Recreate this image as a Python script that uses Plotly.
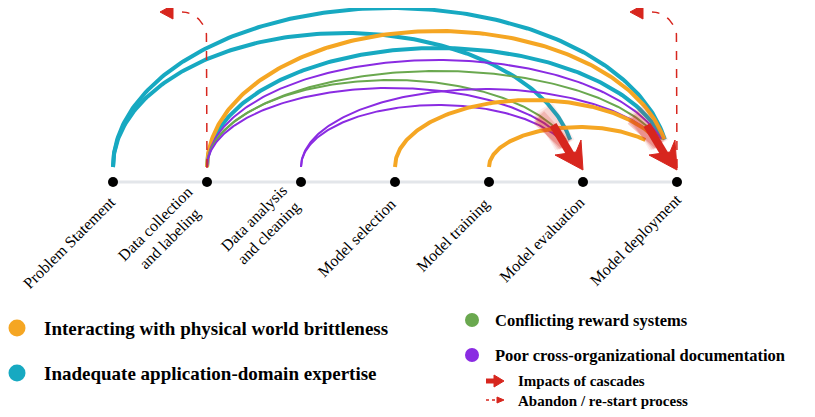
import numpy as np
import plotly.graph_objects as go

stages = ["Problem Statement", "Data collection<br>and labeling", "Data analysis<br>and cleaning",
          "Model selection", "Model training", "Model evaluation", "Model deployment"]
stage_x = [113, 207, 301, 395, 489, 583, 677]
axis_y = 182
# arcs: (source stage, target stage, color key, peak y)
arc_src = [0, 0, 1, 1, 1, 1, 1, 1, 2, 2, 3, 4]
arc_tgt = [6, 5, 6, 6, 6, 6, 5, 5, 5, 6, 6, 6]
arc_col = ["teal", "teal", "teal", "orange", "purple", "green", "green", "purple", "purple", "purple", "orange", "orange"]
arc_peak = [8, 33, 48, 31, 60, 71, 80, 88, 105, 89, 100, 127]
arc_w = {"teal": 4, "orange": 4, "purple": 2, "green": 2}
colors = {"teal": "#17a9c1", "orange": "#f5a623", "purple": "#8a2be2", "green": "#6aa84f", "red": "#d7261e"}
red = colors["red"]
FONT = "Liberation Serif"

fig = go.Figure()
fig.add_trace(go.Scatter(x=[stage_x[0], stage_x[-1]], y=[axis_y, axis_y], mode="lines",
                         line=dict(color="#e3e6ea", width=3), hoverinfo="skip"))
base = 167
for s, t, c, p in zip(arc_src, arc_tgt, arc_col, arc_peak):
    x0 = stage_x[s]
    xe = stage_x[t] - 8
    cx = (x0 + xe) / 2
    a = (xe - x0) / 2
    h = base - p
    tt = np.linspace(0, np.pi, 200)
    xs = cx - a * np.cos(tt)
    ys = base - h * np.sin(tt)
    stop_y = 140
    keep = [i for i in range(len(tt)) if tt[i] < np.pi / 2 or ys[i] < stop_y]
    fig.add_trace(go.Scatter(x=xs[keep], y=ys[keep], mode="lines",
                             line=dict(color=colors[c], width=arc_w[c]), hoverinfo="skip"))
for tx in [stage_x[5], stage_x[6]]:
    for k, op in enumerate([0.08, 0.12, 0.18, 0.25]):
        fig.add_trace(go.Scatter(x=[tx - 40 - k * 2, tx - 18], y=[108 + k * 4, 145], mode="lines",
                                 line=dict(color="rgba(215,38,30,%.2f)" % op, width=22 - k * 4), hoverinfo="skip"))
    fig.add_trace(go.Scatter(x=[tx - 30, tx - 12], y=[125, 155], mode="lines",
                             line=dict(color=red, width=8), hoverinfo="skip"))
    fig.add_trace(go.Scatter(x=[tx, tx - 2, tx - 7, tx - 28, tx], y=[170, 140, 152, 155, 170], mode="lines",
                             fill="toself", fillcolor=red, line=dict(color=red, width=1), hoverinfo="skip"))
for tx in [stage_x[1], stage_x[6]]:
    tt = np.linspace(0, np.pi / 2, 30)
    xs = list(np.full(2, tx)) + list(tx - 25 + 25 * np.cos(tt))
    ys = [168, 40] + list(40 - 28 * np.sin(tt))
    fig.add_trace(go.Scatter(x=xs, y=ys, mode="lines", line=dict(color=red, width=1.5, dash="dash"),
                             hoverinfo="skip"))
    fig.add_trace(go.Scatter(x=[tx - 47, tx - 34, tx - 34, tx - 47], y=[12, 5, 19, 12], mode="lines",
                             fill="toself", fillcolor=red, line=dict(color=red, width=1), hoverinfo="skip"))
fig.add_trace(go.Scatter(x=stage_x, y=[axis_y] * 7, mode="markers",
                         marker=dict(color="black", size=10), hoverinfo="skip"))
ang = np.deg2rad(45)
for x, lab in zip(stage_x, stages):
    lines = lab.split("<br>")
    L = max(len(l) for l in lines) * 7.6
    nl = len(lines)
    ex, ey = x + 2, 197
    cx = ex - L / 2 * np.cos(ang) - (nl - 1) * 6
    cy = ey + L / 2 * np.sin(ang) - (nl - 1) * 6
    fig.add_annotation(x=cx, y=cy, text=lab, showarrow=False, textangle=-45,
                       font=dict(family=FONT, size=16, color="black"), align="center")
leg = [(17, 328, "orange", "Interacting with physical world brittleness", 19, 42),
       (17, 373, "teal", "Inadequate application-domain expertise", 19, 42),
       (472, 320, "green", "Conflicting reward systems", 16.5, 493),
       (472, 355, "purple", "Poor cross-organizational documentation", 16.5, 493)]
for x, y, c, txt, fs, tx in leg:
    fig.add_trace(go.Scatter(x=[x], y=[y], mode="markers", marker=dict(color=colors[c], size=17 if fs > 18 else 14),
                             hoverinfo="skip"))
    fig.add_annotation(x=tx, y=y, text="<b>%s</b>" % txt, showarrow=False, xanchor="left",
                       font=dict(family=FONT, size=fs, color="black"))
fig.add_trace(go.Scatter(x=[486, 495], y=[381, 381], mode="lines", line=dict(color=red, width=5), hoverinfo="skip"))
fig.add_trace(go.Scatter(x=[494, 504, 494, 494], y=[375, 381, 387, 375], mode="lines", fill="toself",
                         fillcolor=red, line=dict(color=red, width=1), hoverinfo="skip"))
fig.add_trace(go.Scatter(x=[486, 498], y=[400, 400], mode="lines", line=dict(color=red, width=1.5, dash="dot"),
                         hoverinfo="skip"))
fig.add_trace(go.Scatter(x=[497, 504, 497, 497], y=[397, 400, 403, 397], mode="lines", fill="toself",
                         fillcolor=red, line=dict(color=red, width=1), hoverinfo="skip"))
fig.add_annotation(x=516, y=381, text="<b>Impacts of cascades</b>", showarrow=False, xanchor="left",
                   font=dict(family=FONT, size=15, color="black"))
fig.add_annotation(x=516, y=401, text="<b>Abandon / re-start process</b>", showarrow=False, xanchor="left",
                   font=dict(family=FONT, size=15, color="black"))

fig.update_layout(width=815, height=417, margin=dict(l=0, r=0, t=0, b=0), showlegend=False,
                  plot_bgcolor="white", paper_bgcolor="white",
                  xaxis=dict(range=[8, 823], visible=False),
                  yaxis=dict(range=[425, 8], visible=False))
fig.write_html("out.html")
